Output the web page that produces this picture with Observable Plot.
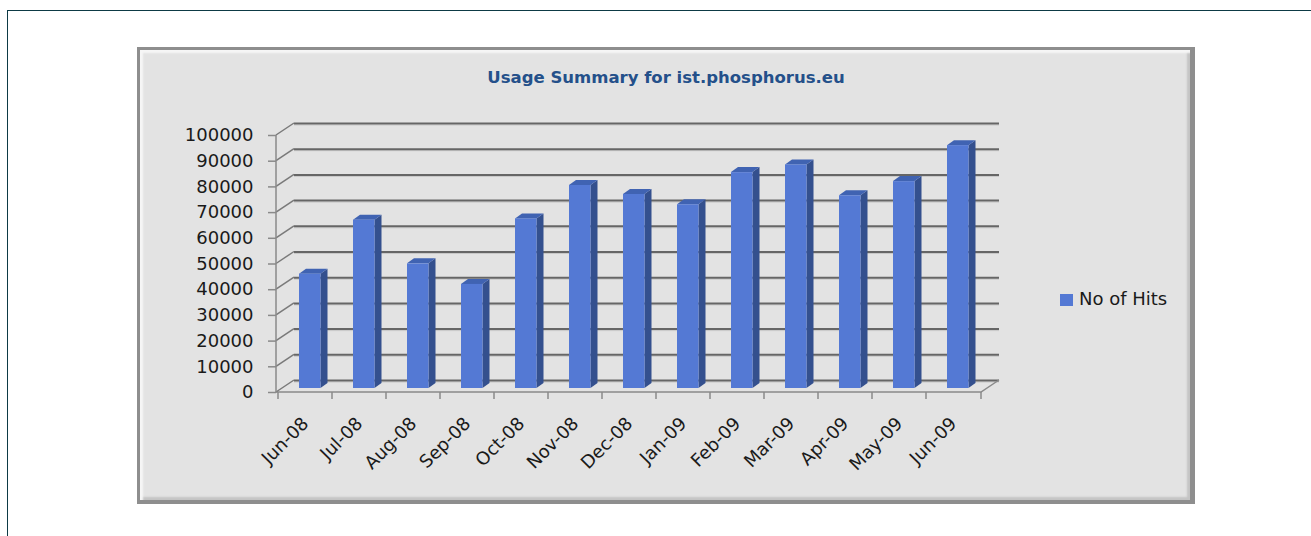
<!DOCTYPE html>
<html><head><meta charset="utf-8">
<script src="https://cdn.jsdelivr.net/npm/d3@7"></script>
<script src="https://cdn.jsdelivr.net/npm/@observablehq/plot@0.6"></script>
<style>
html,body{margin:0;padding:0;background:#fff;}
#page{position:relative;width:1311px;height:536px;overflow:hidden;font-family:"DejaVu Sans",sans-serif;}
#frame{position:absolute;left:7px;top:10px;width:1400px;height:600px;border-top:1.5px solid #0d3a45;border-left:1.5px solid #0d3a45;}
#box{position:absolute;left:137px;top:47px;width:1058px;height:457px;box-sizing:border-box;background:#e3e3e3;border:3px solid #8e8e8e;border-right-width:5px;border-bottom-width:4px;box-shadow:inset 3px 3px 2px #f6f6f6, inset -3px -3px 2px #c4c4c4;}
#title{position:absolute;left:366px;width:600px;top:68px;text-align:center;font-weight:bold;font-size:16.5px;line-height:20px;color:#24508a;white-space:nowrap;}
#legend{position:absolute;left:1060px;top:289px;font-size:18px;line-height:20px;color:#1a1a1a;white-space:nowrap;}
#legend .sw{display:inline-block;width:13px;height:12px;background:#5479d4;margin-right:6px;vertical-align:-1px;}
#chart{position:absolute;left:0;top:0;}
</style>
</head><body>
<div id="page">
  <div id="frame"></div>
  <div id="box"></div>
  <div id="title"></div>
  <div id="legend"></div>
  <div id="chart"></div>
</div>
<script>
const titleText = "Usage Summary for ist.phosphorus.eu";
const seriesName = "No of Hits";
const months = ["Jun-08","Jul-08","Aug-08","Sep-08","Oct-08","Nov-08","Dec-08","Jan-09","Feb-09","Mar-09","Apr-09","May-09","Jun-09"];
const hits = [44500, 65500, 48500, 40500, 66000, 79000, 75500, 71500, 84000, 87000, 75000, 80500, 94500];
const yTicks = [0,10000,20000,30000,40000,50000,60000,70000,80000,90000,100000];

const data = months.map((m, i) => ({month: m, hits: hits[i]}));

document.getElementById("title").textContent = titleText;
document.getElementById("legend").innerHTML = '<span class="sw"></span>' + seriesName;

// 3D styling offsets (pixels)
const WALL_DX = 18, WALL_DY = -12;      // back wall depth
const BAR_DY = -4;                       // bar sits slightly behind the front edge
const DEPTH_DX = 7, DEPTH_DY = -5;       // bar depth
const INSET_L = 21, INSET_R = 11.5;

const frame3d = (index, scales, values, dims) => {
  const x = scales.x, y = scales.y;
  const x0 = dims.marginLeft, x1 = dims.width - dims.marginRight;
  const g = d3.create("svg:g");
  // floor right edge & front edge
  g.append("path").attr("fill","none").attr("stroke","#8a8a8a").attr("stroke-width",1.5)
    .attr("d", `M${x0},${y(0)}L${x1},${y(0)}L${x1+WALL_DX},${y(0)+WALL_DY}`);
  // diagonals from axis to back wall
  for (const t of yTicks) {
    g.append("line").attr("x1", x0).attr("y1", y(t)).attr("x2", x0+WALL_DX).attr("y2", y(t)+WALL_DY)
      .attr("stroke","#7a7a7a").attr("stroke-width",1.5);
  }
  // vertical axis line
  g.append("line").attr("x1", x0).attr("x2", x0).attr("y1", y(0)).attr("y2", y(yTicks[yTicks.length-1]))
    .attr("stroke","#8a8a8a").attr("stroke-width",1.5);
  // category ticks at band boundaries
  const bounds = months.map(m => x(m)).concat([x1]);
  for (const b of bounds) {
    g.append("line").attr("x1", b).attr("x2", b).attr("y1", y(0)).attr("y2", y(0)+7)
      .attr("stroke","#8a8a8a").attr("stroke-width",1.5);
  }
  return g.node();
};

const barSides = (index, scales, values, dims) => {
  const x = scales.x, y = scales.y;
  const bw = x.bandwidth();
  const g = d3.create("svg:g");
  for (const d of data) {
    const xl = x(d.month) + INSET_L, xr = x(d.month) + bw - INSET_R;
    const yb = y(0) + BAR_DY, yt = y(d.hits) + BAR_DY;
    g.append("path").attr("fill","#34508e")
      .attr("d", `M${xr},${yb}L${xr},${yt}L${xr+DEPTH_DX},${yt+DEPTH_DY}L${xr+DEPTH_DX},${yb+DEPTH_DY}Z`);
    g.append("path").attr("fill","#4063b2")
      .attr("d", `M${xl},${yt}L${xr},${yt}L${xr+DEPTH_DX},${yt+DEPTH_DY}L${xl+DEPTH_DX},${yt+DEPTH_DY}Z`);
  }
  return g.node();
};

const plot = Plot.plot({
  width: 1311,
  height: 536,
  marginLeft: 276,
  marginRight: 330,
  marginTop: 135,
  marginBottom: 144,
  style: {background: "transparent", fontFamily: "DejaVu Sans", fontSize: "18px", color: "#1a1a1a", overflow: "visible"},
  x: {domain: months, padding: 0, axis: null},
  y: {domain: [0, 100000]},
  marks: [
    Plot.ruleY(yTicks, {dx: WALL_DX, dy: WALL_DY + 1.5, stroke: "#c8c8c8", strokeWidth: 1}),
    Plot.ruleY(yTicks, {dx: WALL_DX, dy: WALL_DY, stroke: "#666", strokeWidth: 2}),
    frame3d,
    Plot.axisY(yTicks, {tickSize: 8, tickPadding: 15, tickFormat: d => String(d), fontSize: 18, stroke: "#8a8a8a", strokeWidth: 1.5, fill: "#1a1a1a", label: null}),
    barSides,
    Plot.barY(data, {x: "month", y: "hits", fill: "#5479d4", dy: BAR_DY, insetLeft: INSET_L, insetRight: INSET_R}),
    Plot.text(months, {x: d => d, frameAnchor: "bottom", dy: 28, rotate: -45, textAnchor: "end", lineAnchor: "middle", fontSize: 18, fill: "#1a1a1a"})
  ]
});
document.getElementById("chart").appendChild(plot);
</script>
</body></html>
